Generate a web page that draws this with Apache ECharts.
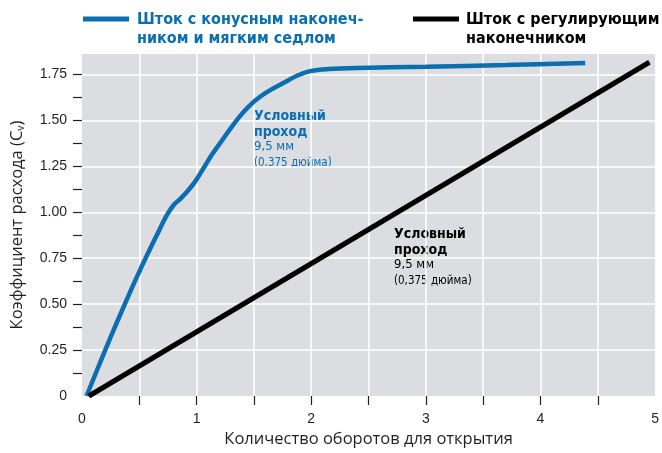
<!DOCTYPE html>
<html>
<head>
<meta charset="utf-8">
<script src="https://cdn.jsdelivr.net/npm/echarts@6/dist/echarts.min.js"></script>
<style>
  html, body { margin: 0; padding: 0; background: #ffffff; }
  #chart { width: 662px; height: 453px; }
</style>
</head>
<body>
<div id="chart"></div>
<script>
// Stem with conical tip and soft seat: turns to open vs. flow coefficient
const conicalTurns = [0.04, 0.15, 0.27, 0.38, 0.48, 0.57, 0.66, 0.74, 0.80, 0.86, 0.92, 0.99, 1.06, 1.14, 1.22, 1.30, 1.38, 1.46, 1.55, 1.65, 1.76, 1.88, 2.0, 2.15, 2.4, 3.0, 3.7, 4.39];
const conicalCv    = [0, 0.17, 0.35, 0.51, 0.65, 0.77, 0.885, 0.985, 1.04, 1.075, 1.115, 1.17, 1.24, 1.32, 1.39, 1.46, 1.525, 1.58, 1.628, 1.668, 1.705, 1.745, 1.77, 1.78, 1.786, 1.793, 1.802, 1.813];

// Stem with regulating tip
const regulatingTurns = [0.06, 4.95];
const regulatingCv    = [0, 1.817];

// Axis ticks and labels
const xTickValues  = [0.5, 1, 1.5, 2, 2.5, 3, 3.5, 4, 4.5];
const xLabelValues = [0, 1, 2, 3, 4, 5];
const yTickValues  = [0.125, 0.25, 0.375, 0.5, 0.625, 0.75, 0.875, 1, 1.125, 1.25, 1.375, 1.5, 1.625, 1.75];
const yLabelValues = [0, 0.25, 0.5, 0.75, 1, 1.25, 1.5, 1.75];
const yLabelText   = ['0', '0.25', '0.50', '0.75', '1.00', '1.25', '1.50', '1.75'];

const legendNames = ['Шток с конусным наконеч-\nником и мягким седлом', 'Шток с регулирующим\nнаконечником'];
const noteTitle = 'Условный\nпроход';
const noteSize = '9,5 мм';
const noteInch = '(0,375 дюйма)';

const BLUE = '#0a6eb0';
const BLACK = '#000000';
const INK = '#231f20';
const PLOT_BG = '#dcdde0';
const TICK_FONT = "'Liberation Sans', Arial, sans-serif";
const NAME_FONT = "'Open Sans', 'Noto Sans', sans-serif";
const CONDENSED = "'DejaVu Sans Condensed', 'Liberation Sans', sans-serif";

const X_MAX = 5;
const Y_MAX = 1.862;

const zip = (xs, ys) => xs.map((x, i) => [x, ys[i]]);

const chart = echarts.init(document.getElementById('chart'), null, { renderer: 'canvas' });

function noteGroup(x, y, color) {
  return {
    type: 'group', x: x, y: y,
    children: [
      { type: 'text', x: 0, y: 0, style: { text: noteTitle, fill: color, font: "bold 14px " + CONDENSED, lineHeight: 16, verticalAlign: 'top' } },
      { type: 'text', x: 0, y: 32, style: { text: noteSize, fill: color, font: "13px " + CONDENSED, verticalAlign: 'top' } },
      { type: 'text', x: 0, y: 49, style: { text: noteInch, fill: color, font: "11.5px " + CONDENSED, verticalAlign: 'top' } }
    ]
  };
}

const option = {
  animation: false,
  backgroundColor: '#ffffff',
  grid: {
    left: 82, right: 5, top: 54, bottom: 55,
    show: true, backgroundColor: PLOT_BG, borderWidth: 0
  },
  xAxis: [
    {
      type: 'value', min: 0, max: X_MAX, interval: 0.5,
      position: 'bottom', offset: 4,
      name: 'Количество оборотов для открытия',
      nameLocation: 'middle', nameGap: 31,
      nameTextStyle: { fontFamily: NAME_FONT, fontSize: 16.5, color: INK },
      axisLine: { show: false },
      axisTick: { show: false },
      axisLabel: {
        margin: 12, fontFamily: TICK_FONT, fontSize: 14, color: INK,
        customValues: xLabelValues,
        formatter: v => String(v)
      },
      splitLine: { show: true, showMinLine: false, showMaxLine: false, lineStyle: { color: '#ffffff', width: 1.5 } }
    },
    {
      type: 'value', min: 0, max: X_MAX,
      position: 'bottom', offset: 4,
      axisLine: { show: false },
      axisTick: { show: true, length: 9, customValues: xTickValues, lineStyle: { color: INK, width: 1.2 } },
      axisLabel: { show: false },
      splitLine: { show: false }
    }
  ],
  yAxis: [
    {
      type: 'value', min: 0, max: Y_MAX, interval: 0.25,
      position: 'left', offset: 1,
      name: '{a|Коэффициент расхода (C}{s|v}{a|)}',
      nameLocation: 'middle', nameGap: 54, nameRotate: 90,
      nameTextStyle: {
        rich: {
          a: { fontFamily: NAME_FONT, fontSize: 16.5, color: INK },
          s: { fontFamily: NAME_FONT, fontSize: 10.5, color: INK, verticalAlign: 'bottom', padding: [8, 0, 0, 0] }
        }
      },
      axisLine: { show: false },
      axisTick: { show: false },
      axisLabel: {
        margin: 14, fontFamily: TICK_FONT, fontSize: 14, color: INK,
        customValues: yLabelValues,
        formatter: v => yLabelText[yLabelValues.indexOf(v)] || ''
      },
      splitLine: { show: true, showMinLine: false, showMaxLine: false, lineStyle: { color: '#ffffff', width: 1.5 } }
    },
    {
      type: 'value', min: 0, max: Y_MAX,
      position: 'left', offset: 1,
      axisLine: { show: false },
      axisTick: { show: true, length: 9, customValues: yTickValues, lineStyle: { color: INK, width: 1.2 } },
      axisLabel: { show: false },
      splitLine: { show: false }
    }
  ],
  series: [
    {
      name: 'conical', type: 'line', xAxisIndex: 0, yAxisIndex: 0,
      data: zip(conicalTurns, conicalCv),
      smooth: 0.35, showSymbol: false, symbol: 'none',
      lineStyle: { color: BLUE, width: 4.5 }
    },
    {
      name: 'regulating', type: 'line', xAxisIndex: 0, yAxisIndex: 0,
      data: zip(regulatingTurns, regulatingCv),
      showSymbol: false, symbol: 'none',
      lineStyle: { color: BLACK, width: 5 }
    }
  ],
  graphic: [
    { type: 'rect', shape: { x: 83, y: 16.5, width: 46, height: 5 }, style: { fill: BLUE } },
    { type: 'text', x: 137, y: 10, style: { text: legendNames[0], fill: BLUE, font: "bold 16px " + CONDENSED, lineHeight: 19, verticalAlign: 'top' } },
    { type: 'rect', shape: { x: 413, y: 16.5, width: 46, height: 5 }, style: { fill: BLACK } },
    { type: 'text', x: 466, y: 10, style: { text: legendNames[1], fill: BLACK, font: "bold 16px " + CONDENSED, lineHeight: 19, verticalAlign: 'top' } },
    noteGroup(254, 108, BLUE),
    noteGroup(394, 226, BLACK)
  ]
};

chart.setOption(option);
</script>
</body>
</html>
